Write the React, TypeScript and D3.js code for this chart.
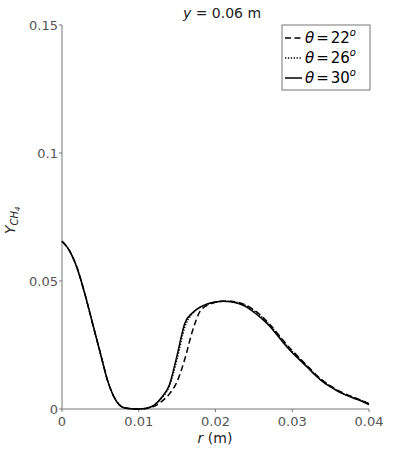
import React from "react";
import * as d3 from "d3";

// radial positions (m)
const rValues = [
  0, 0.001, 0.002, 0.003, 0.004, 0.005, 0.006, 0.007, 0.008, 0.009, 0.01,
  0.011, 0.012, 0.013, 0.014, 0.015, 0.016, 0.017, 0.018, 0.019, 0.02,
  0.021, 0.022, 0.023, 0.024, 0.025, 0.026, 0.027, 0.028, 0.029, 0.03,
  0.031, 0.032, 0.033, 0.034, 0.035, 0.036, 0.037, 0.038, 0.039, 0.04,
];

// Y_CH4 for theta = 22 deg (dashed)
const theta22 = [
  0.0655, 0.0617, 0.0548, 0.0447, 0.0332, 0.0218, 0.0105, 0.0035, 0.0006, 0.0001, 0.0,
  0.0002, 0.001, 0.003, 0.0059, 0.0107, 0.0195, 0.0305, 0.0382, 0.0406, 0.0417,
  0.0421, 0.0421, 0.0416, 0.0405, 0.0387, 0.0363, 0.0333, 0.0298, 0.0262, 0.0228,
  0.0197, 0.0167, 0.0137, 0.0111, 0.009, 0.0072, 0.0058, 0.0046, 0.0034, 0.0021,
];

// theta = 26 deg (dotted)
const theta26 = [
  0.0655, 0.0617, 0.0548, 0.0447, 0.0332, 0.0218, 0.0105, 0.0035, 0.0006, 0.0001, 0.0,
  0.0003, 0.0014, 0.0043, 0.009, 0.0195, 0.032, 0.0372, 0.0397, 0.041, 0.0418,
  0.0421, 0.042, 0.0415, 0.0403, 0.0384, 0.036, 0.033, 0.0295, 0.0259, 0.0225,
  0.0195, 0.0165, 0.0135, 0.0109, 0.0088, 0.007, 0.0056, 0.0044, 0.0033, 0.002,
];

// theta = 30 deg (solid)
const theta30 = [
  0.0655, 0.0617, 0.0548, 0.0447, 0.0332, 0.0218, 0.0105, 0.0035, 0.0006, 0.0001, 0.0,
  0.0003, 0.0015, 0.0046, 0.0095, 0.021, 0.0335, 0.0376, 0.0398, 0.0411, 0.0418,
  0.0421, 0.0419, 0.0412, 0.0399, 0.0378, 0.0354, 0.0325, 0.029, 0.0253, 0.022,
  0.0191, 0.0162, 0.0132, 0.0106, 0.0086, 0.0068, 0.0054, 0.0042, 0.0031, 0.0017,
];

const xTicks = [0, 0.01, 0.02, 0.03, 0.04];
const xTickLabels = ["0", "0.01", "0.02", "0.03", "0.04"];
const yTicks = [0, 0.05, 0.1, 0.15];
const yTickLabels = ["0", "0.05", "0.1", "0.15"];
const legendLabels = ["22", "26", "30"];

const W = 393;
const H = 455;
const font = "'DejaVu Sans', sans-serif";
const axisColor = "#777";
const tickColor = "#555";

const series = [
  { values: theta22, dash: "6,3.5", label: legendLabels[0] },
  { values: theta26, dash: "1.3,1.6", label: legendLabels[1] },
  { values: theta30, dash: "none", label: legendLabels[2] },
];

export default function App() {
  const x = d3.scaleLinear().domain([0, 0.04]).range([62, 369]);
  const y = d3.scaleLinear().domain([0, 0.15]).range([409, 25]);

  const line = d3
    .line<number>()
    .x((_, i) => x(rValues[i]))
    .y((d) => y(d))
    .curve(d3.curveMonotoneX);

  const [x0, x1] = x.range();
  const [y0, y1] = y.range();

  return (
    <svg
      width={W}
      height={H}
      style={{ position: "absolute", left: 0, top: 0, background: "#fff" }}
    >
      {/* title */}
      <text x={222} y={18} fontFamily={font} fontSize={14} textAnchor="middle" fill="#222">
        <tspan fontStyle="italic">y</tspan> = 0.06 m
      </text>

      {/* axes */}
      <line x1={x0} x2={x0} y1={y0} y2={y1} stroke={axisColor} strokeWidth={1} />
      <line x1={x0} x2={x1} y1={y0} y2={y0} stroke={axisColor} strokeWidth={1} />

      {yTicks.map((t, i) => (
        <g key={"y" + i}>
          <line x1={x0 - 3} x2={x0} y1={y(t)} y2={y(t)} stroke={axisColor} />
          <text
            x={x0 - 4}
            y={y(t) + 4.5}
            fontFamily={font}
            fontSize={13}
            fill={tickColor}
            textAnchor="end"
          >
            {yTickLabels[i]}
          </text>
        </g>
      ))}

      {xTicks.map((t, i) => (
        <g key={"x" + i}>
          <line x1={x(t)} x2={x(t)} y1={y0} y2={y0 + 3} stroke={axisColor} />
          <text
            x={x(t)}
            y={y0 + 17}
            fontFamily={font}
            fontSize={13}
            fill={tickColor}
            textAnchor="middle"
          >
            {xTickLabels[i]}
          </text>
        </g>
      ))}

      {/* axis labels */}
      <text x={215} y={443} fontFamily={font} fontSize={14} textAnchor="middle" fill="#222">
        <tspan fontStyle="italic">r</tspan> (m)
      </text>
      <text
        transform="translate(15,234) rotate(-90)"
        fontFamily={font}
        fontSize={14}
        fill="#222"
      >
        <tspan fontStyle="italic">Y</tspan>
        <tspan fontSize={10} dy={3} fontStyle="italic">CH</tspan>
        <tspan fontSize={7} dy={2} fontStyle="italic">4</tspan>
      </text>

      {/* curves */}
      {series.map((s, i) => (
        <path
          key={"s" + i}
          d={line(s.values) || ""}
          fill="none"
          stroke="#000"
          strokeWidth={1.5}
          strokeDasharray={s.dash}
        />
      ))}

      {/* legend */}
      <rect x={282} y={25} width={88} height={65} fill="#fff" stroke="#555" strokeWidth={0.8} />
      {series.map((s, i) => {
        const ly = 38 + i * 20;
        return (
          <g key={"l" + i}>
            <line
              x1={285}
              x2={302}
              y1={ly}
              y2={ly}
              stroke="#000"
              strokeWidth={1.5}
              strokeDasharray={s.dash}
            />
            <text x={305} y={ly + 5} fontFamily={font} fontSize={15} fill="#000">
              <tspan fontStyle="italic">θ</tspan>
              <tspan dx={2}>=</tspan>
              <tspan dx={2}>{s.label}</tspan>
              <tspan fontSize={10} dy={-7} fontStyle="italic">o</tspan>
            </text>
          </g>
        );
      })}
    </svg>
  );
}
